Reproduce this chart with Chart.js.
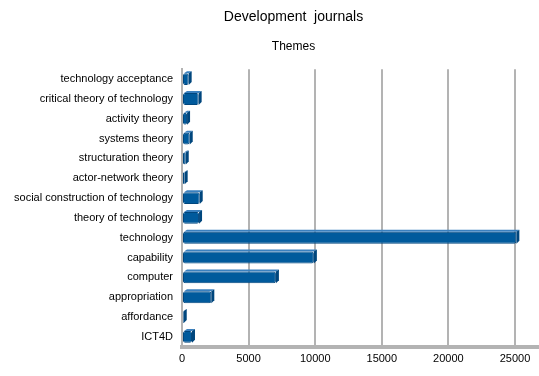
<!DOCTYPE html>
<html>
<head>
<meta charset="utf-8">
<script src="https://cdn.jsdelivr.net/npm/chart.js@4"></script>
<style>
  html, body { margin: 0; padding: 0; background: #fff; }
  canvas { display: block; }
</style>
</head>
<body>
<canvas id="chart" width="539" height="376"></canvas>
<script>
const themes = [
  "technology acceptance",
  "critical theory of technology",
  "activity theory",
  "systems theory",
  "structuration theory",
  "actor-network theory",
  "social construction of technology",
  "theory of technology",
  "technology",
  "capability",
  "computer",
  "appropriation",
  "affordance",
  "ICT4D"
];
const counts = [500, 1250, 380, 580, 280, 200, 1330, 1280, 25100, 9900, 7050, 2200, 130, 750];
const xTicks = [0, 5000, 10000, 15000, 20000, 25000];

// fake 3D: a lighter top face and a darker end face on each bar
const barDepth = {
  id: "barDepth",
  afterDatasetsDraw(chart) {
    const c = chart.ctx;
    const d = 3;
    chart.getDatasetMeta(0).data.forEach(bar => {
      const top = bar.y - bar.height / 2;
      const bottom = bar.y + bar.height / 2;
      c.save();
      c.fillStyle = "#3a80bf";
      c.beginPath();
      c.moveTo(bar.base + 1, top);
      c.lineTo(bar.base + 1 + d, top - 2);
      c.lineTo(bar.x + d, top - 2);
      c.lineTo(bar.x, top);
      c.closePath();
      c.fill();
      c.fillStyle = "#00467d";
      c.beginPath();
      c.moveTo(bar.x, top);
      c.lineTo(bar.x + d, top - 2);
      c.lineTo(bar.x + d, bottom - 3);
      c.lineTo(bar.x, bottom);
      c.closePath();
      c.fill();
      c.restore();
    });
  }
};

// let the long category labels spill into the left padding without being clipped
const unclipLabels = {
  id: "unclipLabels",
  afterLayout(chart) {
    chart.scales.y.left = 0;
  }
};

const ctx = document.getElementById("chart");

new Chart(ctx, {
  type: "bar",
  data: {
    labels: themes,
    datasets: [{
      label: "Themes",
      data: counts,
      backgroundColor: "#005a9c",
      borderColor: "#00467d",
      borderWidth: 1,
      borderRadius: 2,
      borderSkipped: false,
      barPercentage: 0.6,
      categoryPercentage: 1
    }]
  },
  options: {
    indexAxis: "y",
    responsive: false,
    animation: false,
    layout: { padding: { left: 48, right: 0, top: 4, bottom: 4 } },
    plugins: {
      legend: { display: false },
      tooltip: { enabled: false },
      title: {
        display: true,
        text: "Development  journals",
        color: "#000",
        font: { family: "Liberation Sans", size: 14, weight: "normal" },
        padding: { top: 5, bottom: 14 }
      },
      subtitle: {
        display: true,
        text: "Themes",
        color: "#000",
        font: { family: "Liberation Sans", size: 12, weight: "normal" },
        padding: { bottom: 15 }
      }
    },
    scales: {
      x: {
        min: 0,
        max: 26800,
        afterBuildTicks: (axis) => {
          axis.ticks = xTicks.map(v => ({ value: v }));
        },
        grid: { color: "#b3b3b3", lineWidth: 2, drawTicks: false },
        border: { color: "#b3b3b3", width: 4 },
        ticks: {
          color: "#000",
          padding: 6,
          font: { family: "Liberation Sans", size: 11 },
          callback: (v) => String(v)
        }
      },
      y: {
        afterFit: (scale) => { scale.width = 134; },
        grid: { display: false, drawTicks: false },
        border: { color: "#b3b3b3", width: 2 },
        ticks: {
          color: "#000",
          padding: 9,
          font: { family: "Liberation Sans", size: 11 }
        }
      }
    }
  },
  plugins: [barDepth, unclipLabels]
});
</script>
</body>
</html>
